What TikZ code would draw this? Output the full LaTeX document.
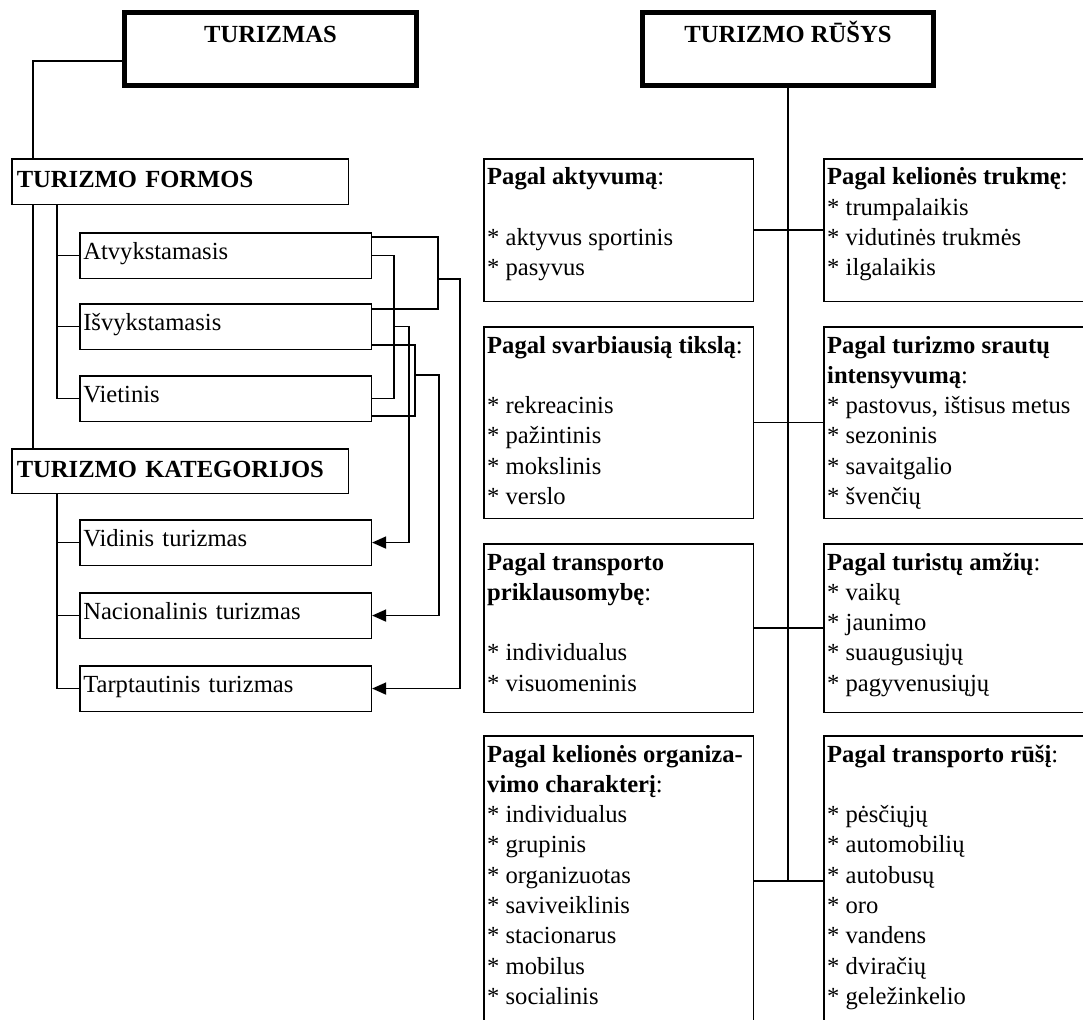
\documentclass[tikz,border=0pt]{standalone}
\usepackage{fontspec}
\setmainfont{Liberation Serif}
\usetikzlibrary{arrows.meta,backgrounds}
\newcommand\dfs{\fontsize{24.6}{30.3}\selectfont}
\begin{document}
\begin{tikzpicture}[x=1pt,y=-1pt,
  every node/.style={font=\dfs},
  thickbox/.style={draw, fill=white, line width=5pt, inner sep=0pt, anchor=north west,
    text height=30.5pt, text depth=42.5pt},
  headbox/.style={draw, fill=white, line width=1.6pt, anchor=north west, align=left,
    inner xsep=5pt, inner ysep=0pt, text width=326.5pt,
    text height=28.25pt, text depth=#1},
  smallbox/.style={draw, fill=white, line width=1.6pt, anchor=north west, align=left,
    inner xsep=3.5pt, inner ysep=0pt, text width=284.5pt,
    text height=26.75pt, text depth=18.75pt},
  catbox/.style 2 args={draw, fill=white, line width=1.6pt, anchor=north west, inner sep=0pt,
    minimum width=#1, minimum height=#2},
  cattext/.style={anchor=base west, inner sep=0pt},
  conn/.style={line width=1.6pt},
  arr/.style={conn, -{Triangle[length=14pt,width=12pt]}}
]
\useasboundingbox (0,0) rectangle (1083,1019);
\clip (0,0) rectangle (1083,1019);

% ---------- left part ----------
\node[thickbox, minimum width=292pt] (tur) at (122,10) {\textbf{TURIZMAS}};
\node[headbox=17.25pt] (forms) at (11,158) {\textbf{TURIZMO FORMOS}};
\node[smallbox] (atv) at (79,232) {Atvykstamasis};
\node[smallbox] (isv) at (79,303) {Išvykstamasis};
\node[smallbox] (viet) at (79,375) {Vietinis};
\node[headbox=16.25pt] (kat) at (11,448) {\textbf{TURIZMO KATEGORIJOS}};
\node[smallbox] (vid) at (79,519) {Vidinis turizmas};
\node[smallbox] (nac) at (79,592) {Nacionalinis turizmas};
\node[smallbox] (tarp) at (79,665) {Tarptautinis turizmas};

% ---------- right part ----------
\node[thickbox, minimum width=291pt] (rus) at (640,10) {\textbf{TURIZMO RŪŠYS}};

\node[catbox={269.5pt}{142.5pt}] (l1) at (483,158) {};
\node[catbox={280pt}{142.5pt}] (r1) at (823,158) {};
\node[catbox={269.5pt}{191.5pt}] (l2) at (483,326) {};
\node[catbox={280pt}{191.5pt}] (r2) at (823,326) {};
\node[catbox={269.5pt}{168.5pt}] (l3) at (483,543) {};
\node[catbox={280pt}{168.5pt}] (r3) at (823,543) {};
\node[catbox={269.5pt}{290.5pt}] (l4) at (483,735) {};
\node[catbox={280pt}{290.5pt}] (r4) at (823,735) {};

\node[cattext] (l1t) at (487,185) {\parbox[t]{400pt}{\raggedright
  \textbf{Pagal aktyvumą}:\\ \mbox{}\\{}* aktyvus sportinis\\{}* pasyvus}};
\node[cattext] (r1t) at (827,185) {\parbox[t]{400pt}{\raggedright
  \textbf{Pagal kelionės trukmę}:\\{}* trumpalaikis\\{}* vidutinės trukmės\\{}* ilgalaikis}};
\node[cattext] (l2t) at (487,353) {\parbox[t]{400pt}{\raggedright
  \textbf{Pagal svarbiausią tikslą}:\\ \mbox{}\\{}* rekreacinis\\{}* pažintinis\\{}* mokslinis\\{}* verslo}};
\node[cattext] (r2t) at (827,353) {\parbox[t]{400pt}{\raggedright
  \textbf{Pagal turizmo srautų}\\ \textbf{intensyvumą}:\\{}* pastovus, ištisus metus\\{}* sezoninis\\{}* savaitgalio\\{}* švenčių}};
\node[cattext] (l3t) at (487,570) {\parbox[t]{400pt}{\raggedright
  \textbf{Pagal transporto}\\ \textbf{priklausomybę}:\\ \mbox{}\\{}* individualus\\{}* visuomeninis}};
\node[cattext] (r3t) at (827,570) {\parbox[t]{400pt}{\raggedright
  \textbf{Pagal turistų amžių}:\\{}* vaikų\\{}* jaunimo\\{}* suaugusiųjų\\{}* pagyvenusiųjų}};
\node[cattext] (l4t) at (487,762) {\parbox[t]{400pt}{\raggedright
  \textbf{Pagal kelionės organiza-}\\ \textbf{vimo charakterį}:\\{}* individualus\\{}* grupinis\\{}* organizuotas\\{}* saviveiklinis\\{}* stacionarus\\{}* mobilus\\{}* socialinis}};
\node[cattext] (r4t) at (827,762) {\parbox[t]{400pt}{\raggedright
  \textbf{Pagal transporto rūšį}:\\ \mbox{}\\{}* pėsčiųjų\\{}* automobilių\\{}* autobusų\\{}* oro\\{}* vandens\\{}* dviračių\\{}* geležinkelio}};

\begin{pgfonlayer}{background}
\draw[conn] ([yshift=-12pt]tur.west) -| ([xshift=22pt]kat.north west);
\coordinate (f0) at ([xshift=46pt]forms.south west);
\draw[conn] (f0) |- (atv.west);
\draw[conn] (f0) |- (isv.west);
\draw[conn] (f0) |- (viet.west);
\coordinate (k0) at ([xshift=46pt]kat.south west);
\draw[conn] (k0) |- (vid.west);
\draw[conn] (k0) |- (nac.west);
\draw[conn] (k0) |- (tarp.west);

% Atvykstamasis + Isvykstamasis -> Tarptautinis
\draw[conn] ([yshift=-5pt]atv.north east) -- ++(66,0) |- ([yshift=-6pt]isv.north east);
\coordinate (jA) at ([xshift=66pt]atv.south east);
\draw[arr] (jA) -- ++(22,0) |- (tarp.east);
% Atvykstamasis + Vietinis -> Vidinis
\draw[conn] (atv.east) -- ++(22,0) |- (viet.east);
\coordinate (jC) at ([xshift=22pt]isv.east);
\draw[arr] (jC) -- ++(15,0) |- (vid.east);
% Isvykstamasis + Vietinis -> Nacionalinis
\draw[conn] ([yshift=5pt]isv.south east) -- ++(43,0) |- ([yshift=6pt]viet.south east);
\coordinate (jE) at ([xshift=43pt]viet.north east);
\draw[arr] (jE) -- ++(24,0) |- (nac.east);

\draw[conn] (rus.south) -- (rus.south |- l4.east);
\draw[conn] (l1.east) -- (r1.west);
\draw[conn] (l2.east) -- (r2.west);
\draw[conn] (l3.east) -- (r3.west);
\draw[conn] (l4.east) -- (r4.west);
\end{pgfonlayer}
\end{tikzpicture}
\end{document}
